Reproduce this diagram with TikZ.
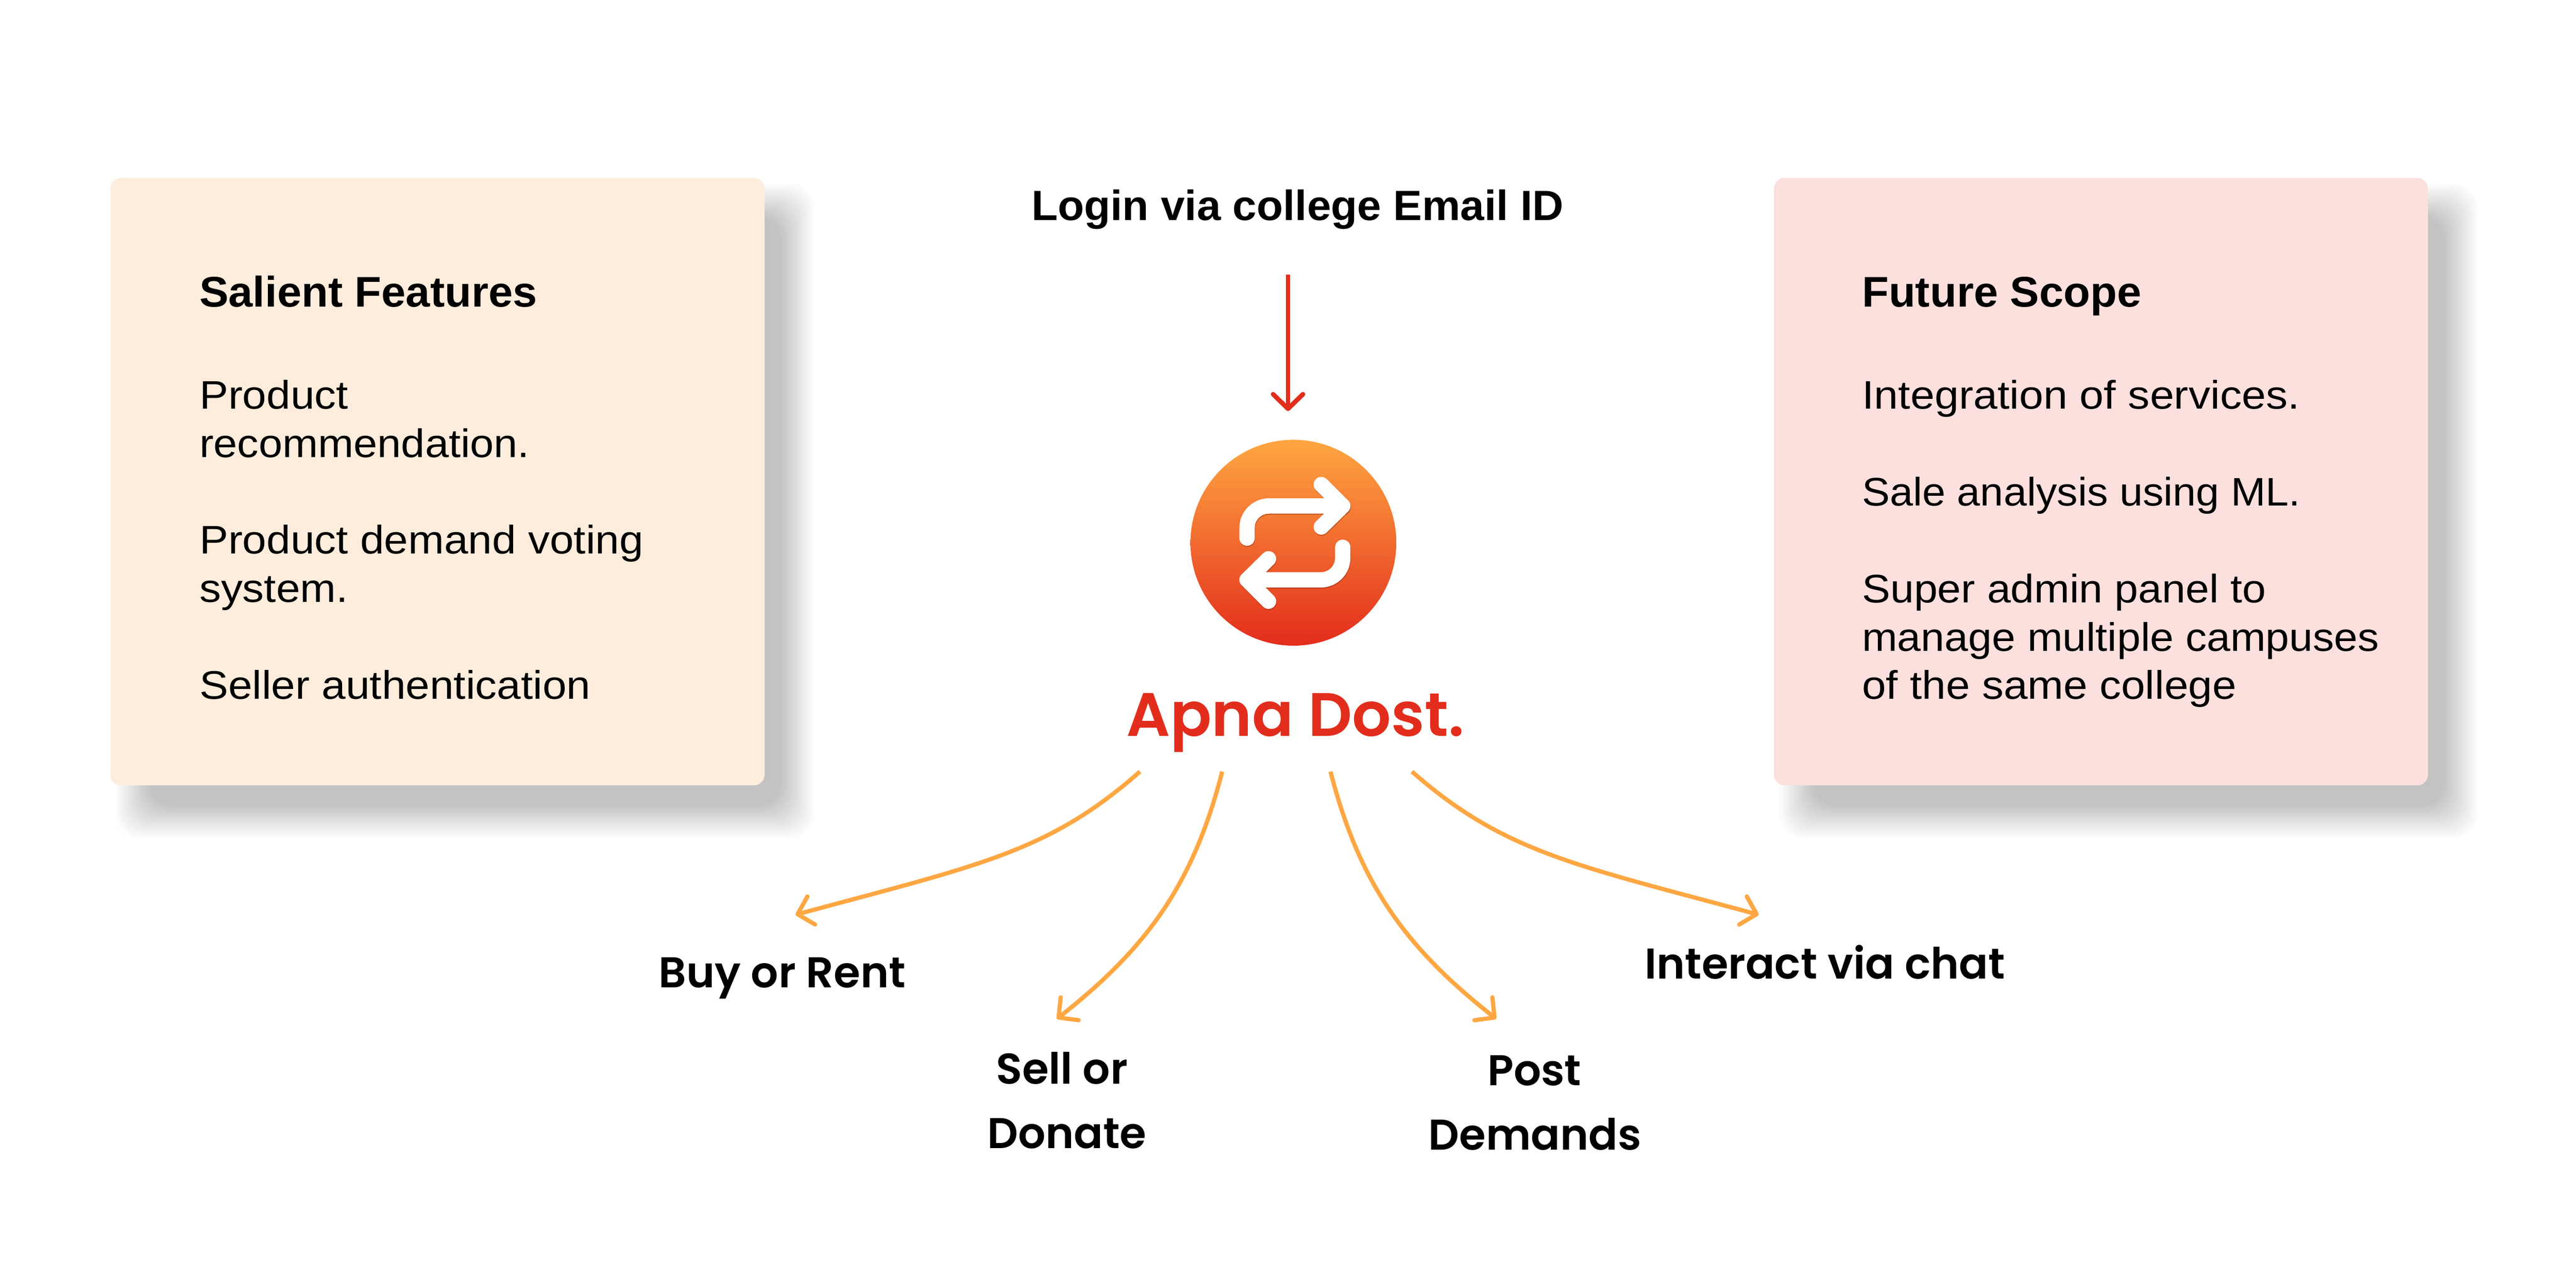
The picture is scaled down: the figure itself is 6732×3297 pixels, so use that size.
\documentclass[tikz,border=0pt]{standalone}
\usepackage{graphicx}
\usepackage{fontspec}
\usetikzlibrary{arrows.meta}
\setmainfont{Liberation Sans}[FakeStretch=1.085,BoldFeatures={FakeStretch=1.02}]
\newfontfamily\popfont{Poppins SemiBold}
\definecolor{peach}{HTML}{FEEDDC}
\definecolor{rose}{HTML}{FBE0DD}
\definecolor{brandred}{HTML}{E32D1C}
\definecolor{brandorange}{HTML}{FFA742}
\tikzset{
  panel/.style={inner sep=0pt,outer sep=0pt,rounded corners=28pt,minimum height=1587pt,anchor=north west},
  paneltitle/.style={inner sep=0pt,anchor=base west,font=\fontsize{112}{112}\selectfont\bfseries},
  paneltext/.style={inner sep=0pt,anchor=base west,font=\fontsize{104}{104}\selectfont},
  brandlabel/.style={inner sep=0pt,anchor=base,font=\fontsize{112.5}{112.5}\popfont},
  orangearrow/.style={draw=brandorange,line width=11pt,-{Straight Barb[length=37pt,width=76pt,line width=11pt,round]}},
  redarrow/.style={draw=brandred,line width=12pt,-{Straight Barb[length=38pt,width=78pt,line width=12pt,round]}},
  logoline/.style={draw=white,line width=40pt,line cap=round,line join=round},
  logoshade/.style={draw=black!70!brandred,opacity=.25,line width=40pt,line cap=round,line join=round},
}
\newcommand{\softshadow}[4]{%
  \foreach \i in {0,...,29}{
    \fill[black,opacity=.0097,rounded corners=60pt]
      ({#1-45+3*\i},{#2-45+3*\i}) rectangle ({#3+45-3*\i},{#4+45-3*\i});
  }}
\begin{document}
\begin{tikzpicture}[x=1pt,y=-1pt]
\useasboundingbox[fill=white] (0,0) rectangle (6732,3297);
% shadows
\softshadow{347}{525}{2083}{2145}
\softshadow{4695}{525}{6430}{2145}
% panels
\node[panel,fill=peach,minimum width=1710pt] (leftpanel) at (288,465) {};
\node[panel,fill=rose,minimum width=1709pt] (rightpanel) at (4636,465) {};
% left text
\node[paneltitle] (ltitle) at (521,802) {Salient Features};
\node[paneltext] (l1) at (521,1069) {Product};
\node[paneltext] (l2) at (521,1195) {\scalebox{0.99}[1]{recommendation.}};
\node[paneltext] (l3) at (521,1447) {Product demand voting};
\node[paneltext] (l4) at (521,1573) {system.};
\node[paneltext] (l5) at (521,1826) {Seller authentication};
% right text
\node[paneltitle] (rtitle) at (4866,802) {Future Scope};
\node[paneltext] (r1) at (4866,1069) {\scalebox{1.008}[1]{Integration of services.}};
\node[paneltext] (r2) at (4866,1322) {\scalebox{0.967}[1]{Sale analysis using ML.}};
\node[paneltext] (r3) at (4866,1575) {\scalebox{0.984}[1]{Super admin panel to}};
\node[paneltext] (r4) at (4866,1701) {\scalebox{0.984}[1]{manage multiple campuses}};
\node[paneltext] (r5) at (4866,1827) {of the same college};
% top
\node[inner sep=0pt,anchor=base,font=\fontsize{110.5}{110.5}\selectfont\bfseries] (login) at (3391,576) {Login via college Email ID};
\node[circle,inner sep=0pt,outer sep=0pt,minimum size=538pt,top color=brandorange,bottom color=brandred] (logo) at (3380,1418) {};
\coordinate (redtail) at (3366,717);
\coordinate (redhead) at (3366,1074);
\draw[redarrow] (redtail) -- (redhead);
% logo glyph
\begin{scope}[shift={(1,3)}]
\draw[logoshade,rounded corners=57pt] (3259,1406) -- (3259,1322) -- (3509,1322);
\draw[logoshade] (3453,1266) -- (3509,1322) -- (3453,1377);
\draw[logoshade,rounded corners=57pt] (3509,1430) -- (3509,1515) -- (3259,1515);
\draw[logoshade] (3315,1460) -- (3259,1515) -- (3315,1571);
\end{scope}
\draw[logoline,rounded corners=57pt] (3259,1406) -- (3259,1322) -- (3509,1322);
\draw[logoline] (3453,1266) -- (3509,1322) -- (3453,1377);
\draw[logoline,rounded corners=57pt] (3509,1430) -- (3509,1515) -- (3259,1515);
\draw[logoline] (3315,1460) -- (3259,1515) -- (3315,1571);
% brand
\node[inner sep=0pt,anchor=base,font=\fontsize{160}{160}\popfont,text=brandred] (brand) at (3385,1923) {Apna Dost.};
% labels
\node[brandlabel] (buy) at (2044,2580) {Buy or Rent};
\node[brandlabel] (sell) at (2775,2832) {Sell or};
\node[brandlabel] (donate) at (2788,3000) {Donate};
\node[brandlabel] (post) at (4010,2836) {Post};
\node[brandlabel] (demands) at (4011,3004) {Demands};
\node[brandlabel] (chat) at (4769,2558) {Interact via chat};
% connectors
\coordinate (s1) at (2979,2016); \coordinate (t1) at (2079,2390);
\coordinate (s2) at (3194,2016); \coordinate (t2) at (2762,2662);
\coordinate (s3) at (3477,2016); \coordinate (t3) at (3910,2662);
\coordinate (s4) at (3690,2016); \coordinate (t4) at (4596,2390);
\draw[orangearrow] (s1) .. controls (2740,2227) and (2559,2260) .. (t1);
\draw[orangearrow] (s2) .. controls (3119,2307) and (3001,2474) .. (t2);
\draw[orangearrow] (s3) .. controls (3552,2307) and (3671,2474) .. (t3);
\draw[orangearrow] (s4) .. controls (3930,2227) and (4116,2260) .. (t4);
\end{tikzpicture}
\end{document}
